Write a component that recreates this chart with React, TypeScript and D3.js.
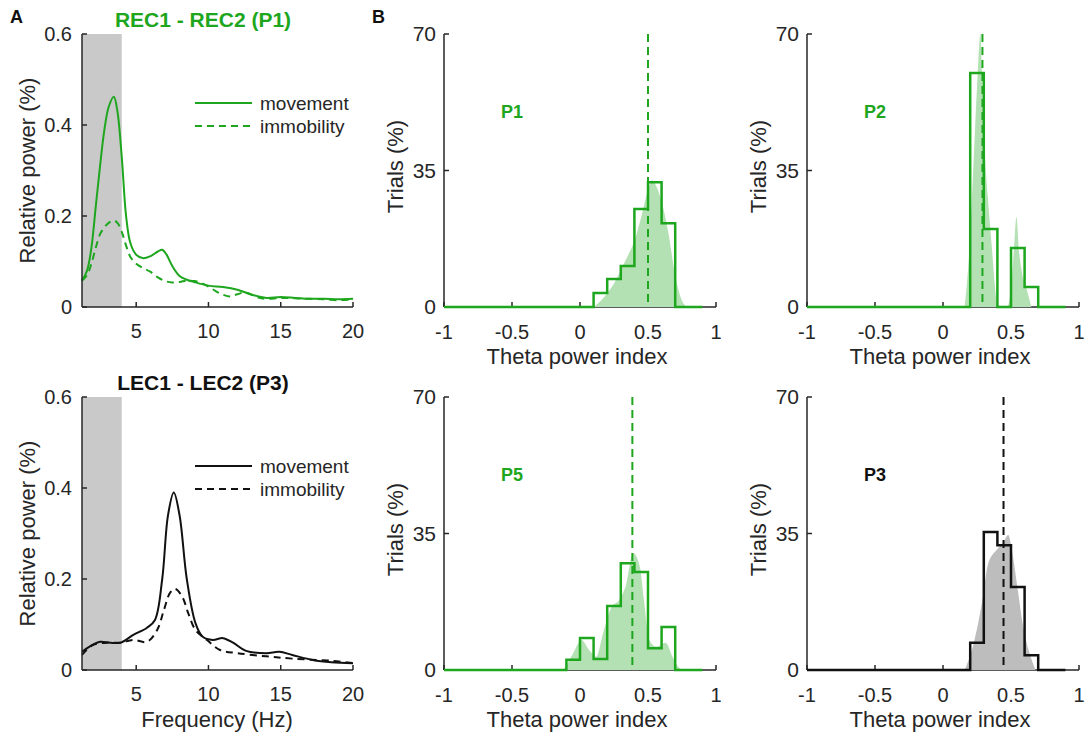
import React from 'react';
import * as d3 from 'd3';

const GREEN = '#1ea61e';
const GREEN_FILL = '#b3e1b3';
const BLACK = '#111111';
const GRAY_FILL = '#bdbdbd';
const AXIS = '#262626';
const FONT = '"Liberation Sans", Arial, sans-serif';

// tick labels
const freqTicks = [5, 10, 15, 20];
const powerTicks = [0, 0.2, 0.4, 0.6];
const indexTicks = [-1, -0.5, 0, 0.5, 1];
const trialTicks = [0, 35, 70];

// spectra, [frequency Hz, relative power]
const recMovement: [number, number][] = [
  [1.25, 0.058], [1.6, 0.08], [1.9, 0.13], [2.2, 0.22], [2.5, 0.31], [2.8, 0.39], [3.1, 0.44], [3.45, 0.462],
  [3.7, 0.43], [4.0, 0.33], [4.3, 0.2], [4.6, 0.14], [5.0, 0.115], [5.5, 0.107], [6.0, 0.112], [6.5, 0.122],
  [6.8, 0.126], [7.1, 0.115], [7.5, 0.09], [8.0, 0.068], [8.5, 0.06], [9, 0.055], [10, 0.047], [11, 0.044],
  [12, 0.038], [13, 0.027], [14, 0.02], [15, 0.022], [16, 0.02], [17, 0.018], [18, 0.018], [19, 0.017], [20, 0.018],
];
const recImmobility: [number, number][] = [
  [1.25, 0.058], [1.6, 0.07], [1.9, 0.095], [2.2, 0.13], [2.5, 0.16], [2.8, 0.175], [3.1, 0.185], [3.45, 0.19],
  [3.7, 0.185], [4.0, 0.165], [4.3, 0.135], [4.6, 0.11], [5.0, 0.095], [5.5, 0.085], [6.0, 0.077], [6.5, 0.065],
  [7, 0.057], [7.5, 0.054], [8, 0.055], [8.5, 0.058], [9, 0.057], [9.5, 0.053], [10, 0.045], [10.5, 0.035],
  [11, 0.027], [11.5, 0.023], [12, 0.028], [12.5, 0.032], [13, 0.027], [13.5, 0.02], [14, 0.018], [15, 0.02],
  [16, 0.019], [17, 0.018], [18, 0.017], [19, 0.015], [20, 0.017],
];
const lecMovement: [number, number][] = [
  [1.25, 0.04], [1.8, 0.052], [2.5, 0.062], [3.2, 0.06], [3.9, 0.06], [4.8, 0.077], [5.75, 0.093], [6.3, 0.11],
  [6.8, 0.2], [7.2, 0.34], [7.6, 0.39], [8.0, 0.34], [8.5, 0.2], [9.1, 0.103], [9.6, 0.073], [10.3, 0.066],
  [11.0, 0.07], [11.7, 0.06], [12.6, 0.042], [14, 0.037], [14.9, 0.04], [15.8, 0.033], [17.2, 0.022],
  [18.5, 0.017], [20, 0.015],
];
const lecImmobility: [number, number][] = [
  [1.25, 0.033], [2.0, 0.055], [3.0, 0.06], [3.9, 0.06], [4.8, 0.066], [5.75, 0.062], [6.45, 0.088], [6.9, 0.13],
  [7.35, 0.17], [7.7, 0.178], [8.2, 0.16], [8.6, 0.125], [9.1, 0.088], [9.9, 0.066], [10.8, 0.044], [12, 0.037],
  [14, 0.03], [15.8, 0.025], [18.6, 0.02], [20, 0.015],
];

// histogram counts, bins of 0.1 from -1 to 0.9 (trials %)
const p1Counts = [0, 0, 0, 0, 0, 0, 0, 0, 0, 0, 0, 3.6, 7.2, 10.5, 25.1, 32, 21.5, 0, 0];
const p2Counts = [0, 0, 0, 0, 0, 0, 0, 0, 0, 0, 0, 0, 60, 20, 0, 15.1, 5.1, 0, 0];
const p5Counts = [0, 0, 0, 0, 0, 0, 0, 0, 0, 2.6, 8.2, 2.8, 16.4, 27.4, 25.1, 5.6, 11, 0, 0];
const p3Counts = [0, 0, 0, 0, 0, 0, 0, 0, 0, 0, 0, 0, 7, 35.4, 32, 21.3, 3.8, 0, 0];

// smoothed distributions, [index, trials %]
const p1Density: [number, number][] = [
  [0.1, 0], [0.15, 1.5], [0.2, 3.5], [0.25, 6], [0.3, 9.5], [0.35, 13], [0.4, 17], [0.45, 23], [0.5, 30],
  [0.53, 32.5], [0.56, 31], [0.6, 27], [0.65, 19], [0.7, 8], [0.74, 2.5], [0.78, 0],
];
const p2Density: [number, number][] = [
  [0.16, 0], [0.2, 18], [0.235, 45], [0.26, 63], [0.275, 70], [0.29, 55], [0.31, 38], [0.33, 28], [0.36, 15],
  [0.38, 6], [0.4, 0], [0.47, 0], [0.5, 5], [0.52, 14], [0.54, 23], [0.56, 14], [0.58, 9], [0.62, 4], [0.65, 0],
];
const p5Density: [number, number][] = [
  [-0.12, 0], [-0.05, 4.3], [0.01, 7.7], [0.07, 5], [0.12, 3.4], [0.17, 9.5], [0.23, 16], [0.29, 18], [0.34, 22],
  [0.39, 30], [0.44, 26.5], [0.47, 18], [0.51, 7.7], [0.56, 6], [0.63, 7], [0.68, 3.4], [0.73, 0.5], [0.75, 0],
];
const p3Density: [number, number][] = [
  [0.16, 0], [0.22, 6], [0.29, 18], [0.33, 27], [0.4, 31], [0.44, 32.5], [0.48, 34.6], [0.51, 30], [0.55, 20.5],
  [0.59, 11], [0.63, 5], [0.66, 1.8], [0.68, 0],
];

const medians = { p1: 0.5, p2: 0.29, p5: 0.385, p3: 0.445 };

function SpectrumPanel({ top, title, color, movement, immobility, xLabel }: any) {
  const left = 82, right = 353, h = 273;
  const x = d3.scaleLinear().domain([1.25, 20]).range([left, right]);
  const y = d3.scaleLinear().domain([0, 0.6]).range([top + h, top]);
  const line = d3.line<[number, number]>().x(d => x(d[0])).y(d => y(d[1])).curve(d3.curveCatmullRom);
  const ly = top + 69;
  return (
    <g>
      <rect x={x(1.25)} y={y(0.6)} width={x(4) - x(1.25)} height={y(0) - y(0.6)} fill="#c9c9c9" />
      <path d={line(immobility) || ''} fill="none" stroke={color} strokeWidth={2} strokeDasharray="7,5" />
      <path d={line(movement) || ''} fill="none" stroke={color} strokeWidth={2} />
      <line x1={left} x2={left} y1={y(0.6)} y2={y(0)} stroke={AXIS} strokeWidth={1.5} />
      <line x1={left} x2={right} y1={y(0)} y2={y(0)} stroke={AXIS} strokeWidth={1.5} />
      {powerTicks.map(t => (
        <g key={t}>
          <line x1={left} x2={left + 5} y1={y(t)} y2={y(t)} stroke={AXIS} strokeWidth={1.5} />
          <text x={left - 10} y={y(t)} dy="0.35em" textAnchor="end" fontSize={20} fill={AXIS}>{t}</text>
        </g>
      ))}
      {freqTicks.map(t => (
        <g key={t}>
          <line x1={x(t)} x2={x(t)} y1={y(0)} y2={y(0) - 5} stroke={AXIS} strokeWidth={1.5} />
          <text x={x(t)} y={y(0) + 31} textAnchor="middle" fontSize={20} fill={AXIS}>{t}</text>
        </g>
      ))}
      {xLabel && (
        <text x={217} y={y(0) + 57} textAnchor="middle" fontSize={22} fill={AXIS}>{xLabel}</text>
      )}
      <text transform={`translate(35,${top + h / 2}) rotate(-90)`} textAnchor="middle" fontSize={22} fill={AXIS}>Relative power (%)</text>
      <text x={203} y={top - 7} textAnchor="middle" fontSize={21} fontWeight="bold" fill={color}>{title}</text>
      <line x1={195} x2={252} y1={ly} y2={ly} stroke={color} strokeWidth={2} />
      <line x1={195} x2={252} y1={ly + 23} y2={ly + 23} stroke={color} strokeWidth={2} strokeDasharray="7,5" />
      <text x={260} y={ly} dy="0.35em" fontSize={19} fill={AXIS}>movement</text>
      <text x={260} y={ly + 23} dy="0.35em" fontSize={19} fill={AXIS}>immobility</text>
    </g>
  );
}

function HistPanel({ left, top, label, color, fill, counts, density, median }: any) {
  const w = 272, h = 273;
  const x = d3.scaleLinear().domain([-1, 1]).range([left, left + w]);
  const y = d3.scaleLinear().domain([0, 70]).range([top + h, top]);
  const area = d3.area<[number, number]>().x(d => x(d[0])).y0(y(0)).y1(d => y(d[1])).curve(d3.curveMonotoneX);
  const pts: [number, number][] = [[-1, 0]];
  counts.forEach((c: number, i: number) => {
    const x0 = -1 + i * 0.1;
    pts.push([x0, c], [x0 + 0.1, c]);
  });
  pts.push([0.9, 0]);
  const stairs = d3.line<[number, number]>().x(d => x(d[0])).y(d => y(d[1]));
  return (
    <g>
      <line x1={left} x2={left} y1={y(70)} y2={y(0)} stroke={AXIS} strokeWidth={1.5} />
      <line x1={left} x2={left + w} y1={y(0)} y2={y(0)} stroke={AXIS} strokeWidth={1.5} />
      {trialTicks.map(t => (
        <g key={t}>
          <line x1={left} x2={left + 5} y1={y(t)} y2={y(t)} stroke={AXIS} strokeWidth={1.5} />
          <text x={left - 8} y={y(t)} dy="0.35em" textAnchor="end" fontSize={21} fill={AXIS}>{t}</text>
        </g>
      ))}
      {indexTicks.map(t => (
        <g key={t}>
          <line x1={x(t)} x2={x(t)} y1={y(0)} y2={y(0) - 5} stroke={AXIS} strokeWidth={1.5} />
          <text x={x(t)} y={y(0) + 32} textAnchor="middle" fontSize={20} fill={AXIS}>{t}</text>
        </g>
      ))}
      <path d={area(density) || ''} fill={fill} />
      <path d={stairs(pts) || ''} fill="none" stroke={color} strokeWidth={2.5} strokeLinejoin="miter" />
      <line x1={x(median)} x2={x(median)} y1={y(70)} y2={y(0)} stroke={color} strokeWidth={2} strokeDasharray="8,5" />
      <text x={x(-0.5)} y={y(50)} dy="0.35em" textAnchor="middle" fontSize={18} fontWeight="bold" fill={color}>{label}</text>
      <text x={x(0) - 3} y={y(0) + 57} textAnchor="middle" fontSize={22} fill={AXIS}>Theta power index</text>
      <text transform={`translate(${left - 41},${top + h / 2 - 4}) rotate(-90)`} textAnchor="middle" fontSize={22} fill={AXIS}>Trials (%)</text>
    </g>
  );
}

export default function App() {
  return (
    <svg width={1088} height={739} style={{ position: 'absolute', left: 0, top: 0, background: '#fff' }} fontFamily={FONT}>
      <text x={10} y={23} fontSize={18} fontWeight="bold" fill={BLACK}>A</text>
      <text x={372} y={23} fontSize={18} fontWeight="bold" fill={BLACK}>B</text>
      <SpectrumPanel top={34} title="REC1 - REC2 (P1)" color={GREEN} movement={recMovement} immobility={recImmobility} />
      <SpectrumPanel top={397} title="LEC1 - LEC2 (P3)" color={BLACK} movement={lecMovement} immobility={lecImmobility} xLabel="Frequency (Hz)" />
      <HistPanel left={444} top={34} label="P1" color={GREEN} fill={GREEN_FILL} counts={p1Counts} density={p1Density} median={medians.p1} />
      <HistPanel left={807} top={34} label="P2" color={GREEN} fill={GREEN_FILL} counts={p2Counts} density={p2Density} median={medians.p2} />
      <HistPanel left={444} top={397} label="P5" color={GREEN} fill={GREEN_FILL} counts={p5Counts} density={p5Density} median={medians.p5} />
      <HistPanel left={807} top={397} label="P3" color={BLACK} fill={GRAY_FILL} counts={p3Counts} density={p3Density} median={medians.p3} />
    </svg>
  );
}
